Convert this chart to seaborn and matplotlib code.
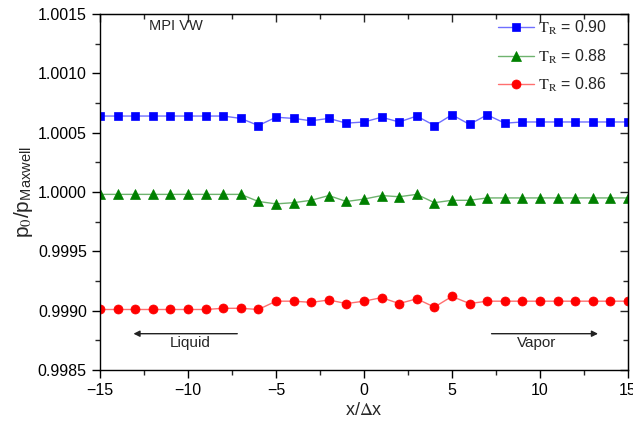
import numpy as np
import pandas as pd
import matplotlib
matplotlib.use("Agg")
import matplotlib.pyplot as plt
import seaborn as sns
from matplotlib.ticker import MultipleLocator, FormatStrFormatter

# Grid positions in units of the lattice spacing
x_pos = list(range(-15, 16))

# p0 / p_Maxwell along the interface for three reduced temperatures
p_090 = [1.00064, 1.00064, 1.00064, 1.00064, 1.00064, 1.00064, 1.00064, 1.00064,
         1.00062, 1.00056, 1.00063, 1.00062, 1.00060, 1.00062, 1.00058, 1.00059,
         1.00063, 1.00059, 1.00064, 1.00056, 1.00065, 1.00057, 1.00065, 1.00058,
         1.00059, 1.00059, 1.00059, 1.00059, 1.00059, 1.00059, 1.00059]
p_088 = [0.99998, 0.99998, 0.99998, 0.99998, 0.99998, 0.99998, 0.99998, 0.99998,
         0.99998, 0.99992, 0.99990, 0.99991, 0.99993, 0.99997, 0.99992, 0.99994,
         0.99997, 0.99996, 0.99998, 0.99991, 0.99993, 0.99993, 0.99995, 0.99995,
         0.99995, 0.99995, 0.99995, 0.99995, 0.99995, 0.99995, 0.99995]
p_086 = [0.99901, 0.99901, 0.99901, 0.99901, 0.99901, 0.99901, 0.99901, 0.99902,
         0.99902, 0.99901, 0.99908, 0.99908, 0.99907, 0.99909, 0.99906, 0.99908,
         0.99911, 0.99906, 0.99910, 0.99903, 0.99912, 0.99906, 0.99908, 0.99908,
         0.99908, 0.99908, 0.99908, 0.99908, 0.99908, 0.99908, 0.99908]

labels = [r"$\mathrm{T_R}$ = 0.90", r"$\mathrm{T_R}$ = 0.88", r"$\mathrm{T_R}$ = 0.86"]
series = [p_090, p_088, p_086]
markers = ["s", "^", "o"]
marker_colors = ["#0000ff", "#008000", "#ff0000"]
line_colors = ["#6f6fff", "#6fb36f", "#ff6f6f"]
marker_sizes = [5.5, 6.5, 6.5]

x_ticks = [-15, -10, -5, 0, 5, 10, 15]

sns.set_style("ticks")
plt.rcParams["font.family"] = ["Liberation Sans", "DejaVu Sans"]
plt.rcParams["mathtext.fontset"] = "stix"

fig = plt.figure(figsize=(6.33, 4.30), dpi=100)
ax = fig.add_axes([0.158, 0.1395, 0.834, 0.828])

for vals, lab, mk, mc, lc, ms in zip(series, labels, markers, marker_colors,
                                     line_colors, marker_sizes):
    df = pd.DataFrame({"x": x_pos, "p": vals})
    sns.lineplot(data=df, x="x", y="p", ax=ax, color=lc, linewidth=1.0,
                 marker=mk, markersize=ms, markerfacecolor=mc,
                 markeredgecolor=mc, markeredgewidth=0.5, label=lab)

ax.set_xlim(-15, 15)
ax.set_ylim(0.9985, 1.0015)
ax.set_xticks(x_ticks)
ax.xaxis.set_minor_locator(MultipleLocator(2.5))
ax.yaxis.set_major_locator(MultipleLocator(0.0005))
ax.yaxis.set_minor_locator(MultipleLocator(0.00025))
ax.yaxis.set_major_formatter(FormatStrFormatter("%.4f"))

for sp in ax.spines.values():
    sp.set_visible(True)
    sp.set_color("black")
    sp.set_linewidth(1.0)

ax.tick_params(axis="both", which="major", direction="out", length=6, width=1,
               labelsize=11.5, colors="black")
ax.tick_params(axis="both", which="minor", direction="out", length=3.5, width=1)

# mirrored inward ticks on the top and right spines
top = ax.secondary_xaxis("top")
top.set_xticks(x_ticks)
top.set_xticklabels([])
top.xaxis.set_minor_locator(MultipleLocator(2.5))
right = ax.secondary_yaxis("right")
right.yaxis.set_major_locator(MultipleLocator(0.0005))
right.yaxis.set_minor_locator(MultipleLocator(0.00025))
right.set_yticklabels([])
for sec in (top, right):
    sec.tick_params(which="major", direction="in", length=6, width=1)
    sec.tick_params(which="minor", direction="in", length=3.5, width=1)

ax.set_xlabel(r"x/$\Delta$x", fontsize=13, labelpad=3)
ax.set_ylabel(r"p$_0$/p$_{\mathregular{Maxwell}}$", fontsize=15, labelpad=2)

ax.text(-12.2, 1.00140, "MPI VW", fontsize=10.5, ha="left", va="center")

# interface direction arrows
ax.annotate("", xy=(-13.1, 0.998806), xytext=(-7.2, 0.998806),
            arrowprops=dict(arrowstyle="-|>", color="#222222", lw=1.0,
                            mutation_scale=9, shrinkA=0, shrinkB=0))
ax.annotate("", xy=(13.3, 0.998806), xytext=(7.25, 0.998806),
            arrowprops=dict(arrowstyle="-|>", color="#222222", lw=1.0,
                            mutation_scale=9, shrinkA=0, shrinkB=0))
ax.text(-9.9, 0.99873, "Liquid", fontsize=11, ha="center", va="center")
ax.text(9.8, 0.99873, "Vapor", fontsize=11, ha="center", va="center")

leg = ax.legend(loc="upper right", frameon=False, fontsize=11.5,
                handlelength=2.2, handletextpad=0.3, labelspacing=0.65,
                borderaxespad=0.0, bbox_to_anchor=(0.973, 1.004))

fig.savefig("out.png", dpi=100)
